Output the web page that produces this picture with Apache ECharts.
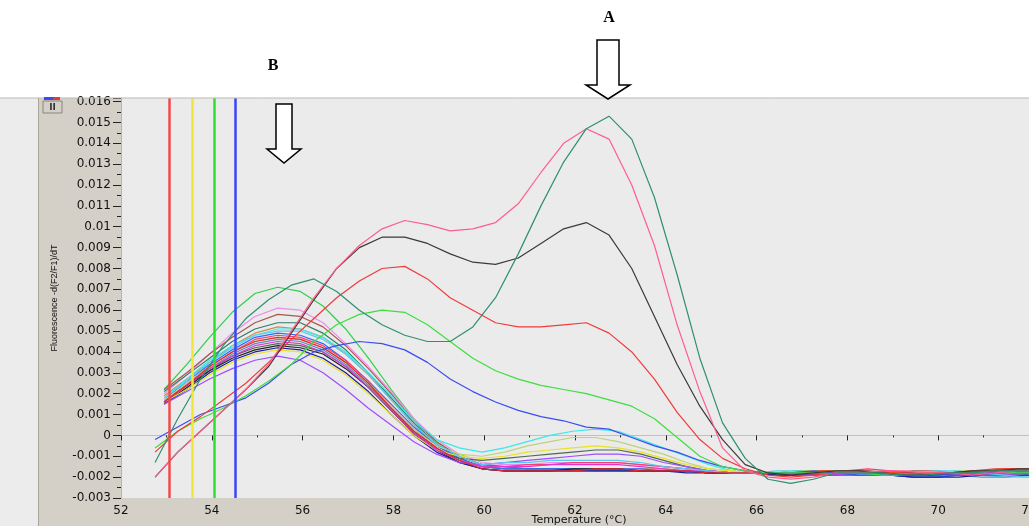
<!DOCTYPE html>
<html>
<head>
<meta charset="utf-8">
<script src="https://cdn.jsdelivr.net/npm/echarts/dist/echarts.min.js"></script>
<style>
  html, body { margin: 0; padding: 0; background: #fff; }
  #chart { width: 1029px; height: 526px; }
</style>
</head>
<body>
<div id="chart"></div>
<script>
// temperature grids (two groups of runs)
const tempsA = [52.75, 53.25, 53.75, 54.25, 54.75, 55.25, 55.75, 56.25, 56.75, 57.25, 57.75, 58.25, 58.75, 59.25, 59.75, 60.25, 60.75, 61.25, 61.75, 62.25, 62.75, 63.25, 63.75, 64.25, 64.75, 65.25, 65.75, 66.25, 66.75, 67.25, 67.75, 68.25, 68.75, 69.25, 69.75, 70.25, 70.75, 71.25, 71.75, 72.25]
const tempsB = [52.95, 53.45, 53.95, 54.45, 54.95, 55.45, 55.95, 56.45, 56.95, 57.45, 57.95, 58.45, 58.95, 59.45, 59.95, 60.45, 60.95, 61.45, 61.95, 62.45, 62.95, 63.45, 63.95, 64.45, 64.95, 65.45, 65.95, 66.45, 66.95, 67.45, 67.95, 68.45, 68.95, 69.45, 69.95, 70.45, 70.95, 71.45, 71.95, 72.45]

// curves with the late (A) peak and the other slow risers, on tempsA
const tealA = [-0.0013, 0.0008, 0.0027, 0.0043, 0.0056, 0.0065, 0.0072, 0.0075, 0.0069, 0.0060, 0.0053, 0.0048, 0.0045, 0.0045, 0.0052, 0.0066, 0.0087, 0.0110, 0.0131, 0.0147, 0.0153, 0.0142, 0.0114, 0.0077, 0.0037, 0.0006, -0.0011, -0.0021, -0.0023, -0.0021, -0.0018, -0.0018, -0.0018, -0.0019, -0.0019, -0.0018, -0.0018, -0.0017, -0.0017, -0.0017]
const pinkA = [-0.0020, -0.0008, 0.0002, 0.0012, 0.0022, 0.0034, 0.0050, 0.0066, 0.0080, 0.0091, 0.0099, 0.0103, 0.0101, 0.0098, 0.0099, 0.0102, 0.0111, 0.0126, 0.0140, 0.0147, 0.0142, 0.0120, 0.0091, 0.0053, 0.0021, -0.0006, -0.0017, -0.0020, -0.0021, -0.0020, -0.0018, -0.0018, -0.0017, -0.0017, -0.0018, -0.0018, -0.0019, -0.0018, -0.0017, -0.0017]
const blackA = [-0.0020, -0.0008, 0.0002, 0.0012, 0.0022, 0.0033, 0.0049, 0.0065, 0.0080, 0.0090, 0.0095, 0.0095, 0.0092, 0.0087, 0.0083, 0.0082, 0.0085, 0.0092, 0.0099, 0.0102, 0.0096, 0.0080, 0.0057, 0.0034, 0.0014, -0.0002, -0.0014, -0.0018, -0.0019, -0.0018, -0.0017, -0.0017, -0.0018, -0.0019, -0.0019, -0.0018, -0.0017, -0.0017, -0.0016, -0.0016]
const redA = [-0.0008, 0.0002, 0.0009, 0.0017, 0.0025, 0.0035, 0.0046, 0.0056, 0.0066, 0.0074, 0.0080, 0.0081, 0.0075, 0.0066, 0.0060, 0.0054, 0.0052, 0.0052, 0.0053, 0.0054, 0.0049, 0.0040, 0.0027, 0.0011, -0.0002, -0.0011, -0.0016, -0.0019, -0.0020, -0.0019, -0.0018, -0.0018, -0.0018, -0.0019, -0.0018, -0.0018, -0.0017, -0.0016, -0.0016, -0.0017]
const greenA = [-0.0006, 0.0002, 0.0008, 0.0013, 0.0019, 0.0026, 0.0034, 0.0045, 0.0053, 0.0058, 0.0060, 0.0059, 0.0053, 0.0045, 0.0037, 0.0031, 0.0027, 0.0024, 0.0022, 0.0020, 0.0017, 0.0014, 0.0008, -0.0001, -0.0010, -0.0015, -0.0017, -0.0018, -0.0018, -0.0018, -0.0017, -0.0018, -0.0019, -0.0019, -0.0018, -0.0018, -0.0017, -0.0017, -0.0018, -0.0018]
const blueA = [-0.0002, 0.0004, 0.0010, 0.0014, 0.0018, 0.0025, 0.0034, 0.0040, 0.0043, 0.0045, 0.0044, 0.0041, 0.0035, 0.0027, 0.0021, 0.0016, 0.0012, 0.0009, 0.0007, 0.0004, 0.0003, -0.0001, -0.0005, -0.0008, -0.0012, -0.0015, -0.0017, -0.0018, -0.0018, -0.0017, -0.0018, -0.0019, -0.0019, -0.0019, -0.0018, -0.0019, -0.0019, -0.0018, -0.0018, -0.0019]

// early (B) hump curves, on tempsB
const greenB = [0.0022, 0.0034, 0.0047, 0.0059, 0.0068, 0.0071, 0.0069, 0.0062, 0.0051, 0.0037, 0.0022, 0.0008, -0.0003, -0.0010, -0.0014, -0.0015, -0.0016, -0.0016, -0.0016, -0.0016, -0.0017, -0.0017, -0.0017, -0.0017, -0.0017, -0.0018, -0.0018, -0.0018, -0.0018, -0.0017, -0.0017, -0.0018, -0.0018, -0.0019, -0.0019, -0.0018, -0.0018, -0.0017, -0.0017, -0.0018]
const violetB = [0.0020, 0.0029, 0.0039, 0.0049, 0.0057, 0.0061, 0.0060, 0.0054, 0.0044, 0.0033, 0.0021, 0.0008, -0.0002, -0.0009, -0.0013, -0.0014, -0.0014, -0.0013, -0.0013, -0.0013, -0.0013, -0.0014, -0.0015, -0.0016, -0.0017, -0.0018, -0.0018, -0.0019, -0.0018, -0.0018, -0.0017, -0.0017, -0.0018, -0.0019, -0.0019, -0.0019, -0.0018, -0.0018, -0.0019, -0.0019]
const brownB = [0.0022, 0.0030, 0.0039, 0.0047, 0.0054, 0.0058, 0.0057, 0.0052, 0.0043, 0.0032, 0.0020, 0.0007, -0.0003, -0.0010, -0.0014, -0.0015, -0.0016, -0.0016, -0.0016, -0.0016, -0.0016, -0.0017, -0.0017, -0.0017, -0.0018, -0.0018, -0.0018, -0.0018, -0.0018, -0.0019, -0.0019, -0.0018, -0.0018, -0.0017, -0.0017, -0.0018, -0.0018, -0.0018, -0.0017, -0.0017]
const tealB = [0.0021, 0.0029, 0.0037, 0.0045, 0.0051, 0.0054, 0.0054, 0.0049, 0.0041, 0.0030, 0.0018, 0.0006, -0.0004, -0.0011, -0.0015, -0.0016, -0.0016, -0.0016, -0.0016, -0.0017, -0.0017, -0.0017, -0.0017, -0.0017, -0.0018, -0.0018, -0.0018, -0.0019, -0.0019, -0.0018, -0.0018, -0.0018, -0.0019, -0.0020, -0.0020, -0.0019, -0.0019, -0.0018, -0.0018, -0.0019]
const orangeB = [0.0019, 0.0027, 0.0035, 0.0043, 0.0049, 0.0052, 0.0051, 0.0047, 0.0039, 0.0029, 0.0017, 0.0005, -0.0005, -0.0011, -0.0015, -0.0016, -0.0017, -0.0017, -0.0017, -0.0017, -0.0016, -0.0016, -0.0016, -0.0017, -0.0017, -0.0018, -0.0018, -0.0018, -0.0017, -0.0017, -0.0017, -0.0018, -0.0018, -0.0018, -0.0019, -0.0019, -0.0018, -0.0017, -0.0017, -0.0018]
const cyanB = [0.0018, 0.0027, 0.0036, 0.0043, 0.0048, 0.0051, 0.0051, 0.0047, 0.0040, 0.0030, 0.0019, 0.0007, -0.0002, -0.0006, -0.0008, -0.0006, -0.0003, 0.0000, 0.0002, 0.0003, 0.0002, -0.0002, -0.0006, -0.0010, -0.0014, -0.0017, -0.0018, -0.0018, -0.0017, -0.0017, -0.0017, -0.0017, -0.0018, -0.0018, -0.0019, -0.0019, -0.0019, -0.0020, -0.0020, -0.0019]
const blueB = [0.0017, 0.0026, 0.0034, 0.0041, 0.0047, 0.0049, 0.0048, 0.0044, 0.0036, 0.0026, 0.0015, 0.0004, -0.0005, -0.0011, -0.0015, -0.0016, -0.0016, -0.0016, -0.0016, -0.0016, -0.0016, -0.0016, -0.0017, -0.0017, -0.0018, -0.0018, -0.0018, -0.0018, -0.0019, -0.0019, -0.0019, -0.0019, -0.0019, -0.0020, -0.0020, -0.0019, -0.0018, -0.0018, -0.0018, -0.0019]
const crimsonB = [0.0016, 0.0025, 0.0033, 0.0040, 0.0046, 0.0048, 0.0047, 0.0043, 0.0036, 0.0026, 0.0014, 0.0003, -0.0006, -0.0012, -0.0015, -0.0015, -0.0014, -0.0014, -0.0013, -0.0013, -0.0013, -0.0014, -0.0015, -0.0016, -0.0017, -0.0018, -0.0018, -0.0018, -0.0018, -0.0017, -0.0017, -0.0016, -0.0017, -0.0018, -0.0018, -0.0018, -0.0017, -0.0017, -0.0016, -0.0016]
const limeB = [0.0017, 0.0025, 0.0033, 0.0040, 0.0045, 0.0047, 0.0046, 0.0042, 0.0035, 0.0025, 0.0014, 0.0003, -0.0005, -0.0009, -0.0010, -0.0008, -0.0005, -0.0003, -0.0001, -0.0001, -0.0003, -0.0006, -0.0009, -0.0013, -0.0016, -0.0017, -0.0018, -0.0018, -0.0018, -0.0017, -0.0017, -0.0018, -0.0018, -0.0019, -0.0019, -0.0018, -0.0018, -0.0018, -0.0019, -0.0019]
const steelB = [0.0016, 0.0024, 0.0032, 0.0039, 0.0044, 0.0046, 0.0045, 0.0041, 0.0034, 0.0024, 0.0013, 0.0002, -0.0006, -0.0012, -0.0016, -0.0017, -0.0017, -0.0017, -0.0017, -0.0017, -0.0017, -0.0017, -0.0017, -0.0017, -0.0018, -0.0018, -0.0018, -0.0018, -0.0018, -0.0018, -0.0019, -0.0019, -0.0019, -0.0018, -0.0018, -0.0019, -0.0020, -0.0020, -0.0019, -0.0019]
const oliveB = [0.0016, 0.0024, 0.0031, 0.0038, 0.0042, 0.0044, 0.0043, 0.0040, 0.0033, 0.0023, 0.0012, 0.0001, -0.0007, -0.0011, -0.0012, -0.0011, -0.0010, -0.0009, -0.0008, -0.0007, -0.0007, -0.0009, -0.0012, -0.0015, -0.0017, -0.0018, -0.0018, -0.0018, -0.0017, -0.0017, -0.0018, -0.0018, -0.0018, -0.0019, -0.0019, -0.0018, -0.0017, -0.0017, -0.0017, -0.0018]
const blackB = [0.0015, 0.0023, 0.0031, 0.0037, 0.0041, 0.0043, 0.0042, 0.0039, 0.0032, 0.0023, 0.0012, 0.0001, -0.0007, -0.0013, -0.0016, -0.0017, -0.0017, -0.0017, -0.0016, -0.0016, -0.0016, -0.0017, -0.0017, -0.0017, -0.0018, -0.0018, -0.0018, -0.0018, -0.0018, -0.0018, -0.0018, -0.0018, -0.0019, -0.0019, -0.0019, -0.0018, -0.0018, -0.0017, -0.0017, -0.0017]
const navyB = [0.0015, 0.0022, 0.0030, 0.0036, 0.0040, 0.0042, 0.0041, 0.0037, 0.0030, 0.0021, 0.0010, 0.0000, -0.0008, -0.0013, -0.0016, -0.0017, -0.0017, -0.0017, -0.0017, -0.0017, -0.0017, -0.0017, -0.0017, -0.0018, -0.0018, -0.0018, -0.0018, -0.0019, -0.0019, -0.0019, -0.0018, -0.0018, -0.0019, -0.0020, -0.0020, -0.0020, -0.0019, -0.0019, -0.0019, -0.0020]
const yellowB = [0.0016, 0.0022, 0.0029, 0.0035, 0.0039, 0.0041, 0.0040, 0.0036, 0.0029, 0.0020, 0.0010, 0.0000, -0.0007, -0.0010, -0.0011, -0.0010, -0.0008, -0.0007, -0.0006, -0.0005, -0.0006, -0.0008, -0.0011, -0.0014, -0.0016, -0.0017, -0.0018, -0.0018, -0.0017, -0.0017, -0.0017, -0.0018, -0.0018, -0.0018, -0.0018, -0.0017, -0.0017, -0.0016, -0.0016, -0.0017]
const purpleB = [0.0015, 0.0021, 0.0027, 0.0032, 0.0036, 0.0038, 0.0036, 0.0030, 0.0022, 0.0013, 0.0005, -0.0003, -0.0009, -0.0013, -0.0014, -0.0013, -0.0012, -0.0011, -0.0010, -0.0009, -0.0009, -0.0010, -0.0013, -0.0015, -0.0017, -0.0018, -0.0018, -0.0018, -0.0018, -0.0018, -0.0019, -0.0019, -0.0019, -0.0018, -0.0018, -0.0018, -0.0019, -0.0019, -0.0018, -0.0018]
const magentaB = [0.0016, 0.0024, 0.0032, 0.0038, 0.0043, 0.0045, 0.0044, 0.0040, 0.0033, 0.0023, 0.0012, 0.0001, -0.0007, -0.0012, -0.0015, -0.0015, -0.0015, -0.0014, -0.0014, -0.0014, -0.0014, -0.0015, -0.0016, -0.0017, -0.0017, -0.0018, -0.0018, -0.0018, -0.0019, -0.0019, -0.0018, -0.0018, -0.0017, -0.0018, -0.0019, -0.0019, -0.0018, -0.0017, -0.0017, -0.0018]
const skyB = [0.0018, 0.0026, 0.0035, 0.0042, 0.0048, 0.0050, 0.0050, 0.0046, 0.0039, 0.0029, 0.0017, 0.0005, -0.0004, -0.0010, -0.0014, -0.0013, -0.0013, -0.0012, -0.0012, -0.0012, -0.0012, -0.0013, -0.0015, -0.0016, -0.0017, -0.0018, -0.0018, -0.0017, -0.0017, -0.0018, -0.0018, -0.0019, -0.0019, -0.0018, -0.0017, -0.0017, -0.0018, -0.0019, -0.0020, -0.0020]
const redB = [0.0016, 0.0024, 0.0033, 0.0040, 0.0045, 0.0047, 0.0046, 0.0042, 0.0035, 0.0025, 0.0013, 0.0002, -0.0006, -0.0012, -0.0016, -0.0017, -0.0017, -0.0017, -0.0017, -0.0016, -0.0016, -0.0017, -0.0017, -0.0017, -0.0018, -0.0018, -0.0018, -0.0018, -0.0018, -0.0017, -0.0017, -0.0017, -0.0018, -0.0018, -0.0019, -0.0018, -0.0017, -0.0016, -0.0016, -0.0017]

// vertical marker lines
const markerTemps = [53.07, 53.56, 54.06, 54.52]
const markerColors = ['#f24a4a', '#f2e63a', '#2ee02e', '#3a46f5']

// axis ranges
const yMin = -0.003
const yMax = 0.01617
const xMin = 52
const xMax = 72

const humpCurves = [
  ['greenB', greenB, '#2fcf4a'],
  ['violetB', violetB, '#ee8cee'],
  ['brownB', brownB, '#a8574e'],
  ['tealB', tealB, '#2e7d6a'],
  ['orangeB', orangeB, '#d08a52'],
  ['cyanB', cyanB, '#3ae8e8'],
  ['blueB', blueB, '#2a6cff'],
  ['crimsonB', crimsonB, '#ff3a6e'],
  ['limeB', limeB, '#bdd27a'],
  ['steelB', steelB, '#5a8ccc'],
  ['oliveB', oliveB, '#4f6a52'],
  ['blackB', blackB, '#222222'],
  ['navyB', navyB, '#1c1ca0'],
  ['yellowB', yellowB, '#e8e228'],
  ['purpleB', purpleB, '#a04cff'],
  ['magentaB', magentaB, '#de38cf'],
  ['skyB', skyB, '#58ccf0'],
  ['redB', redB, '#e22828']
]
const lateCurves = [
  ['blueA', blueA, '#3c4cf0'],
  ['greenA', greenA, '#3ede3e'],
  ['redA', redA, '#f03c3c'],
  ['blackA', blackA, '#3a3a3a'],
  ['pinkA', pinkA, '#ff5e8c'],
  ['tealA', tealA, '#2f8f72']
]

const lineSeries = (name, temps, values, color) => ({
  name: name,
  type: 'line',
  data: temps.map((t, i) => [t, values[i]]),
  symbol: 'none',
  silent: true,
  clip: true,
  lineStyle: { width: 1.2, color: color },
  itemStyle: { color: color },
  emphasis: { disabled: true }
})

const series = []
humpCurves.forEach(c => series.push(lineSeries(c[0], tempsB, c[1], c[2])))
lateCurves.forEach(c => series.push(lineSeries(c[0], tempsA, c[1], c[2])))

// markers hang on the last series
series[series.length - 1].markLine = {
  silent: true,
  symbol: 'none',
  animation: false,
  label: { show: false },
  data: markerTemps.map((t, i) => ({
    xAxis: t,
    lineStyle: { color: markerColors[i], width: 2.5, type: 'solid' }
  }))
}

const chart = echarts.init(document.getElementById('chart'))

const tickFont = { fontFamily: 'DejaVu Sans', fontSize: 12, color: '#111' }

const option = {
  animation: false,
  backgroundColor: '#ffffff',
  grid: {
    left: 121,
    top: 98,
    right: 0,
    bottom: 28,
    containLabel: false,
    outerBoundsMode: 'none',
    show: true,
    backgroundColor: '#ebebeb',
    borderWidth: 0
  },
  xAxis: {
    type: 'value',
    min: xMin,
    max: xMax,
    interval: 2,
    name: 'Temperature (°C)',
    nameLocation: 'middle',
    nameGap: 17,
    nameMoveOverlap: false,
    nameTextStyle: { fontFamily: 'DejaVu Sans', fontSize: 11, color: '#111', padding: [0, 0, 0, 8] },
    axisLine: { show: true, lineStyle: { color: '#c4c0b4', width: 1 } },
    axisTick: { show: true, length: 5, lineStyle: { color: '#222' } },
    minorTick: { show: true, splitNumber: 2, length: 2, lineStyle: { color: '#222' } },
    axisLabel: Object.assign({ margin: 7 }, tickFont),
    splitLine: { show: false }
  },
  yAxis: {
    type: 'value',
    min: yMin,
    max: yMax,
    interval: 0.001,
    name: 'Fluorescence -d(F2/F1)/dT',
    nameLocation: 'middle',
    nameRotate: 90,
    nameGap: 62,
    nameMoveOverlap: false,
    nameTextStyle: { fontFamily: 'Liberation Sans', fontSize: 9, color: '#111' },
    axisLine: { show: true, lineStyle: { color: '#b8b4a8', width: 1 } },
    axisTick: { show: true, length: 8, lineStyle: { color: '#222' } },
    minorTick: { show: true, splitNumber: 2, length: 4, lineStyle: { color: '#222' } },
    axisLabel: Object.assign({
      margin: 10,
      formatter: v => String(+v.toFixed(3))
    }, tickFont),
    splitLine: { show: false }
  },
  graphic: [
    // window frame behind the plot
    { type: 'rect', z: -100, silent: true, shape: { x: 0, y: 98, width: 38, height: 428 }, style: { fill: '#ececec' } },
    { type: 'rect', z: -100, silent: true, shape: { x: 38, y: 98, width: 991, height: 428 }, style: { fill: '#d4d0c8' } },
    { type: 'line', z: 60, silent: true, shape: { x1: 0, y1: 98, x2: 1029, y2: 98 }, style: { stroke: '#bdb9ad', lineWidth: 1 } },
    { type: 'line', z: 60, silent: true, shape: { x1: 38.5, y1: 98, x2: 38.5, y2: 526 }, style: { stroke: '#aaa69a', lineWidth: 1 } },
    // little toolbar button
    { type: 'rect', z: 60, silent: true, shape: { x: 43, y: 101, width: 19, height: 12 }, style: { fill: '#d4d0c8', stroke: '#8a8678', lineWidth: 1 } },
    { type: 'rect', z: 60, silent: true, shape: { x: 44, y: 97, width: 9, height: 3 }, style: { fill: '#3a4cf0' } },
    { type: 'rect', z: 60, silent: true, shape: { x: 53, y: 97, width: 7, height: 3 }, style: { fill: '#e03a3a' } },
    { type: 'text', z: 61, silent: true, style: { x: 52.5, y: 107.5, text: 'II', fill: '#333', font: 'bold 9px "DejaVu Sans"', align: 'center', verticalAlign: 'middle' } },
    // annotation A
    { type: 'text', z: 70, silent: true, style: { x: 609, y: 18, text: 'A', fill: '#000', font: 'bold 16px "Liberation Serif"', align: 'center', verticalAlign: 'middle' } },
    { type: 'polygon', z: 70, silent: true, shape: { points: [[597, 40], [619, 40], [619, 85], [630, 85], [608, 99], [586, 85], [597, 85]] }, style: { fill: '#ffffff', stroke: '#000', lineWidth: 1.5 } },
    // annotation B
    { type: 'text', z: 70, silent: true, style: { x: 273, y: 66, text: 'B', fill: '#000', font: 'bold 16px "Liberation Serif"', align: 'center', verticalAlign: 'middle' } },
    { type: 'polygon', z: 70, silent: true, shape: { points: [[276, 104], [292, 104], [292, 149], [301, 149], [284, 163], [267, 149], [276, 149]] }, style: { fill: '#ffffff', stroke: '#000', lineWidth: 1.5 } }
  ],
  series: series
}

chart.setOption(option)
</script>
</body>
</html>
